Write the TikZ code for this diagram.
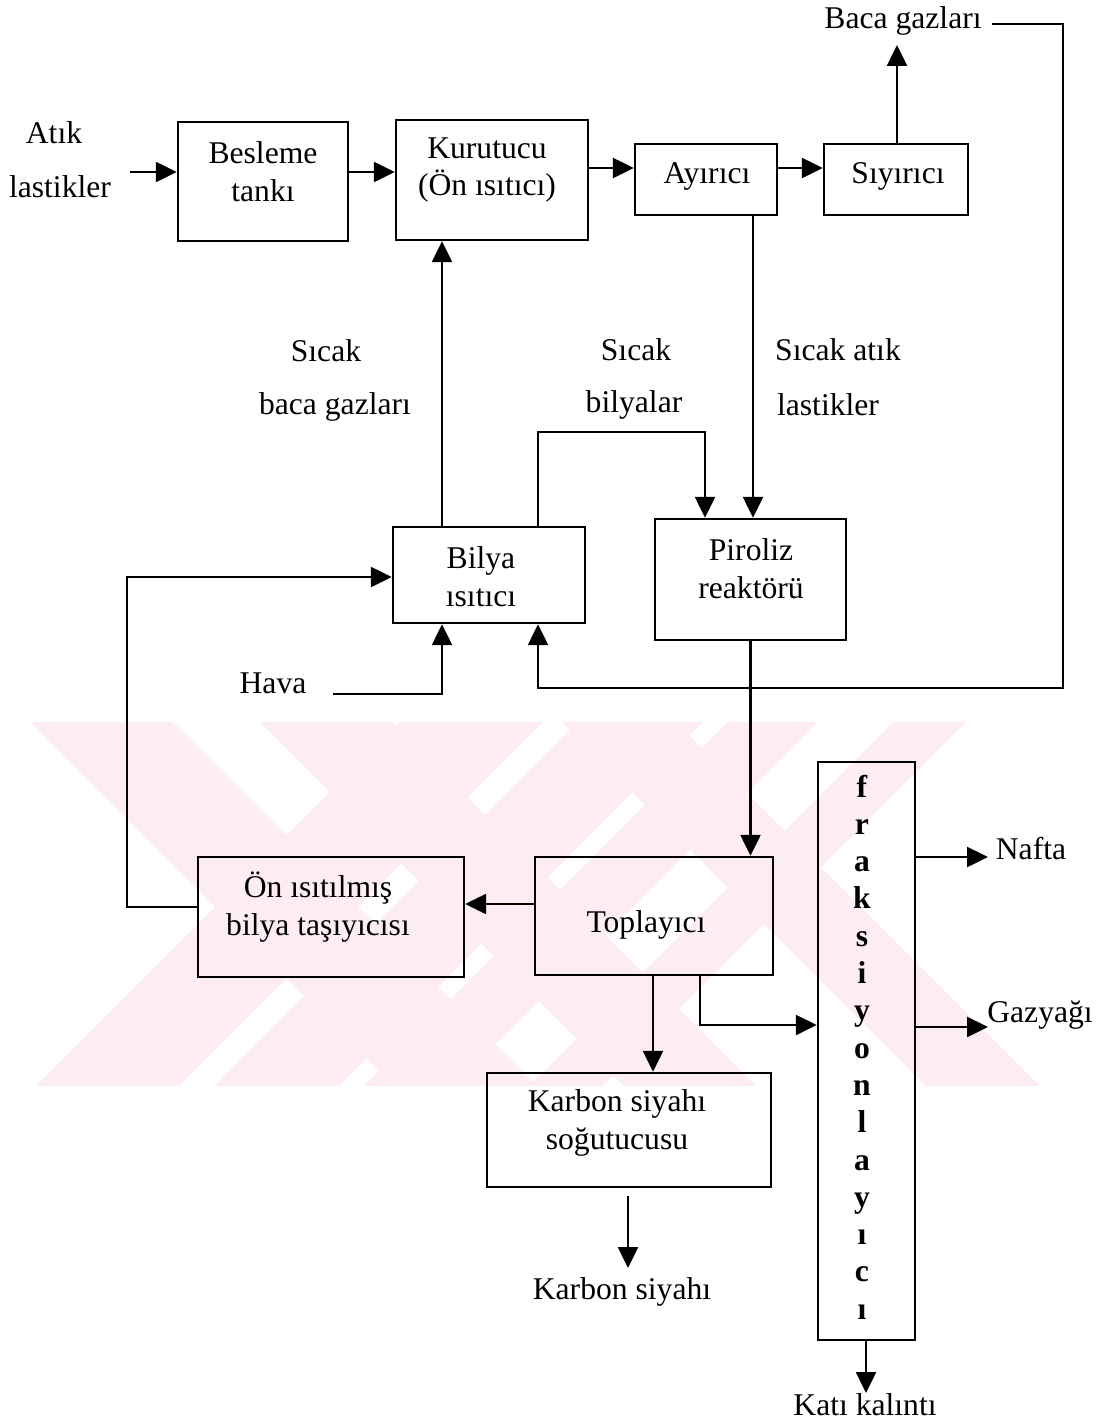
\documentclass[tikz,border=0pt]{standalone}
\usepackage{fontspec}
\setmainfont{Liberation Serif}
\usetikzlibrary{arrows.meta}
\definecolor{wm}{RGB}{253,237,240}
\begin{document}
\begin{tikzpicture}[x=0.02cm,y=-0.02cm,
  box/.style={draw, line width=1.4pt, inner sep=0pt},
  txt/.style={font=\fontsize{18}{21.6}\selectfont, align=center, inner sep=0pt},
  ltr/.style={font=\fontsize{18}{21.6}\selectfont\bfseries, inner sep=0pt, text height=1.5ex, text depth=0.25ex},
  conn/.style={line width=1.4pt},
  arr/.style={conn, -{Triangle[length=0.42cm,width=0.4cm]}},
]
\useasboundingbox (0,0) rectangle (1106,1423);

% watermark
\begin{scope}
\clip (30,722) rectangle (1040,1085);
\foreach \a/\b in {-692/-549, -462/-330, -160/-46}
  \fill[wm] (\a+700,700) -- (\b+700,700) -- (\b+1100,1100) -- (\a+1100,1100) -- cycle;
\foreach \a/\b in {1122/1265, 1300/1425, 1450/1540, 1615/1688}
  \fill[wm] (\a-700,700) -- (\b-700,700) -- (\b-1100,1100) -- (\a-1100,1100) -- cycle;
\end{scope}

% boxes
\node[box, minimum width=3.4cm, minimum height=2.38cm] (bes) at (263,181.5) {};
\node[txt] (besT) at (263,172) {Besleme\\tankı};
\node[box, minimum width=3.84cm, minimum height=2.4cm] (kur) at (492,180) {};
\node[txt] (kurT) at (487,170) {Kurutucu\\(Ön ısıtıcı)};
\node[box, minimum width=2.84cm, minimum height=1.42cm] (ay) at (706,179.5) {};
\node[txt] (ayT) at (707,176) {Ayırıcı};
\node[box, minimum width=2.88cm, minimum height=1.42cm] (siy) at (896,179.5) {};
\node[txt] (siyT) at (898,176) {Sıyırıcı};
\node[box, minimum width=3.84cm, minimum height=1.92cm] (bil) at (489,575) {};
\node[txt] (bilT) at (481,577) {Bilya\\ısıtıcı};
\node[box, minimum width=3.82cm, minimum height=2.42cm] (pir) at (750.5,579.5) {};
\node[txt] (pirT) at (751,569) {Piroliz\\reaktörü};
\node[box, minimum width=5.32cm, minimum height=2.4cm] (on) at (331,917) {};
\node[txt] (onT) at (318,907) {Ön ısıtılmış\\bilya taşıyıcısı};
\node[box, minimum width=4.76cm, minimum height=2.36cm] (top) at (654,916) {};
\node[txt] (topT) at (646,925) {Toplayıcı};
\node[box, minimum width=5.68cm, minimum height=2.28cm] (kar) at (629,1130) {};
\node[txt] (karT) at (617,1123) {Karbon siyahı\\soğutucusu};
\node[box, minimum width=1.94cm, minimum height=11.56cm] (fr) at (866.5,1051) {};
\foreach \l [count=\i from 0] in {f,r,a,k,s,i,y,o,n,l,a,y,ı,c,ı}
  \node[ltr] (fl\i) at (862,792+37.3*\i) {\l};

% labels
\node[txt] (atik1) at (54,133) {Atık};
\node[txt] (atik2) at (60,187) {lastikler};
\node[txt] (baca) at (903,21) {Baca gazları};
\node[txt] (s1a) at (326,351) {Sıcak};
\node[txt] (s1b) at (335,407) {baca gazları};
\node[txt] (s2a) at (636,350) {Sıcak};
\node[txt] (s2b) at (634,405) {bilyalar};
\node[txt] (s3a) at (838,350) {Sıcak atık};
\node[txt] (s3b) at (828,405) {lastikler};
\node[txt] (hava) at (273,683) {Hava};
\node[txt] (naf) at (1031,849) {Nafta};
\node[txt] (gaz) at (1040,1015) {Gazyağı};
\node[txt] (ks) at (622,1292) {Karbon siyahı};
\node[txt] (kk) at (865,1405) {Katı kalıntı};

% helper coordinates
\coordinate (inA) at (130,172);
\coordinate (y172) at (0,172);
\coordinate (y168) at (0,168);
\coordinate (bgtip) at (897,45);
\coordinate (bg0) at (992,24);
\coordinate (bg1) at (1063,24);
\coordinate (bg2) at (1063,688);
\coordinate (x538) at (538,0);
\coordinate (x753) at (753,0);
\coordinate (x442) at (442,0);
\coordinate (y432) at (0,432);
\coordinate (x705) at (705,0);
\coordinate (hv) at (333,694);
\coordinate (x127) at (127,0);
\coordinate (y907) at (0,907);
\coordinate (y577) at (0,577);
\coordinate (y904) at (0,904);
\coordinate (x653) at (653,0);
\coordinate (x700) at (700,0);
\coordinate (y1025) at (0,1025);
\coordinate (nafT) at (988,857);
\coordinate (gazT) at (988,1027);
\coordinate (ks0) at (628,1196);
\coordinate (ksT) at (628,1268);
\coordinate (kkT) at (866,1393);

% connectors
\draw[arr] (inA) -- (inA -| bes.west);
\draw[arr] (bes.east |- y172) -- (kur.west |- y172);
\draw[arr] (kur.east |- y168) -- (ay.west |- y168);
\draw[arr] (ay.east |- y168) -- (siy.west |- y168);
\draw[arr] (siy.north -| bgtip) -- (bgtip);
\draw[arr] (bg0) -- (bg1) -- (bg2) -- (bg2 -| x538) -- (bil.south -| x538);
\draw[arr] (ay.south -| x753) -- (pir.north -| x753);
\draw[arr] (bil.north -| x442) -- (kur.south -| x442);
\draw[arr] (bil.north -| x538) -- (x538 |- y432) -- (x705 |- y432) -- (pir.north -| x705);
\draw[arr] (hv) -| (bil.south -| x442);
\draw[arr] (on.west |- y907) -- (x127 |- y907) -- (x127 |- y577) -- (bil.west |- y577);
\draw[arr] (pir.south) -- (top.north -| pir.south);
\draw[arr] (top.west |- y904) -- (on.east |- y904);
\draw[arr] (top.south -| x653) -- (kar.north -| x653);
\draw[arr] (top.south -| x700) |- (fr.west |- y1025);
\draw[arr] (fr.east |- nafT) -- (nafT);
\draw[arr] (fr.east |- gazT) -- (gazT);
\draw[arr] (ks0) -- (ksT);
\draw[arr] (fr.south -| kkT) -- (kkT);
\end{tikzpicture}
\end{document}
